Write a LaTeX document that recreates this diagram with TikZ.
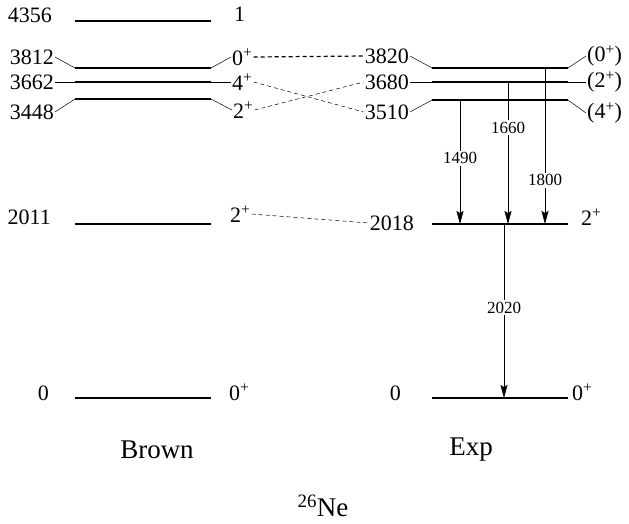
\documentclass[tikz,border=0pt]{standalone}
\usepackage{fontspec}
\setmainfont{Liberation Serif}
\usetikzlibrary{arrows.meta}

\newcommand*{\bxl}{75}
\newcommand*{\bxr}{211}
\newcommand*{\exl}{432}
\newcommand*{\exr}{568}
\newcommand*{\plus}{\textsuperscript{+}}

\begin{document}
\begin{tikzpicture}
[
	x=1pt, y=-1pt,
	lvl/.style={line width=1.6pt},
	link/.style={line width=0.5pt},
	en/.style={font=\fontsize{22}{22}\selectfont, inner sep=1pt},
	gline/.style={line width=0.5pt, -{Stealth[length=13pt,width=7pt,inset=2pt]}},
	glabel/.style={fill=white, font=\fontsize{17}{17}\selectfont, inner sep=2pt},
	match/.style={dash pattern=on 4pt off 3pt, line width=0.5pt},
	title/.style={font=\fontsize{27}{27}\selectfont}
]

	\useasboundingbox (0,0) rectangle (629,523);

	% Brown levels
	\foreach \n/\y in {4356/21, 3812/68, 3662/82, 3448/99, 2011/224, 0/398} {
		\coordinate (bl\n) at (\bxl,\y);
		\coordinate (br\n) at (\bxr,\y);
		\draw[lvl] (bl\n) -- (br\n);
	}

	% Exp levels
	\foreach \n/\y in {3820/68, 3680/82, 3510/100, 2018/224, 0/398} {
		\coordinate (el\n) at (\exl,\y);
		\coordinate (er\n) at (\exr,\y);
		\draw[lvl] (el\n) -- (er\n);
	}

	% Brown energies
	\node[en, anchor=east] (be4356) at (53,15) {4356};
	\node[en, anchor=east] (be3812) at (55,57) {3812};
	\node[en, anchor=east] (be3662) at (55,82) {3662};
	\node[en, anchor=east] (be3448) at (55,112) {3448};
	\node[en, anchor=east] (be2011) at (52,217) {2011};
	\node[en, anchor=east] (be0) at (50,393) {0};
	\draw[link] (be3812.east) -- (bl3812);
	\draw[link] (be3662.east) -- (bl3662);
	\draw[link] (be3448.east) -- (bl3448);

	% Brown spins
	\node[en, anchor=west] (bs4356) at (233,14) {1};
	\node[en, anchor=west] (bs3812) at (231,57) {0\plus};
	\node[en, anchor=west] (bs3662) at (231,82) {4\plus};
	\node[en, anchor=west] (bs3448) at (232,110) {2\plus};
	\node[en, anchor=west] (bs2011) at (229,214) {2\plus};
	\node[en, anchor=west] (bs0) at (228,392) {0\plus};
	\draw[link] (br3812) -- (bs3812.west);
	\draw[link] (br3662) -- (bs3662.west);
	\draw[link] (br3448) -- (bs3448.west);

	% Exp energies
	\node[en, anchor=east] (ee3820) at (410,56) {3820};
	\node[en, anchor=east] (ee3680) at (410,82) {3680};
	\node[en, anchor=east] (ee3510) at (410,112) {3510};
	\node[en, anchor=east] (ee2018) at (415,223) {2018};
	\node[en, anchor=east] (ee0) at (402,393) {0};
	\draw[link] (ee3820.east) -- (el3820);
	\draw[link] (ee3680.east) -- (el3680);
	\draw[link] (ee3510.east) -- (el3510);

	% Exp spins
	\node[en, anchor=west] (es3820) at (586,56) {(0\plus)};
	\node[en, anchor=west] (es3680) at (586,82) {(2\plus)};
	\node[en, anchor=west] (es3510) at (586,113) {(4\plus)};
	\node[en, anchor=west] (es2018) at (580,217) {2\plus};
	\node[en, anchor=west] (es0) at (571,392) {0\plus};
	\draw[link] (er3820) -- (es3820.west);
	\draw[link] (er3680) -- (es3680.west);
	\draw[link] (er3510) -- (es3510.west);

	% matching
	\draw[match, line width=1.2pt] (bs3812.east) -- (ee3820.west);
	\draw[match] (bs3662.east) -- (ee3510.west);
	\draw[match] (bs3448.east) -- (ee3680.west);
	\draw[match] (bs2011.east) -- (ee2018.west);

	% gammas
	\coordinate (g1490t) at (460,100);
	\coordinate (g1490b) at (460,224);
	\coordinate (g1660t) at (508,82);
	\coordinate (g1660b) at (508,224);
	\coordinate (g1800t) at (545,68);
	\coordinate (g1800b) at (545,224);
	\coordinate (g2020t) at (504,224);
	\coordinate (g2020b) at (504,398);
	\draw[gline] (g1490t) -- node[glabel, pos=0.47] (gl1490) {1490} (g1490b);
	\draw[gline] (g1660t) -- node[glabel, pos=0.32] (gl1660) {1660} (g1660b);
	\draw[gline] (g1800t) -- node[glabel, pos=0.72] (gl1800) {1800} (g1800b);
	\draw[gline] (g2020t) -- node[glabel, pos=0.48] (gl2020) {2020} (g2020b);

	% titles
	\node[title] (brown) at (157,450) {Brown};
	\node[title] (exp) at (471,450) {Exp};
	\node[title] (nucl) at (323,506) {\textsuperscript{26}Ne};

\end{tikzpicture}
\end{document}
